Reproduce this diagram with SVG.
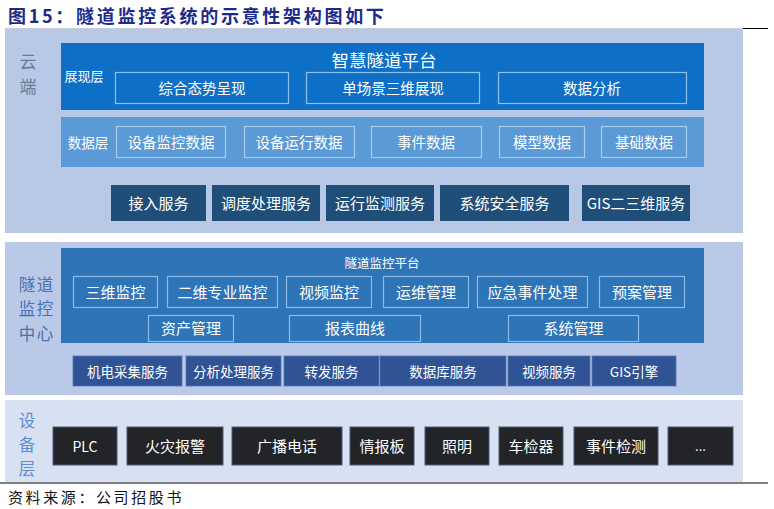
<svg xmlns="http://www.w3.org/2000/svg" width="774" height="509" viewBox="0 0 774 509">
<style>
text{font-family:"Noto Sans CJK SC","Liberation Sans",sans-serif;dominant-baseline:central;text-anchor:middle}
.w{fill:#ffffff}
.sub{fill:none;stroke:#8fc1ee;stroke-width:1.2}
.dat{fill:none;stroke:#a9cdef;stroke-width:1.2}
.csvc{fill:#1f4e79}
.msub{fill:none;stroke:#8dbbe6;stroke-width:1.2}
.msvc{fill:#2f5394;stroke:#5577b3;stroke-width:0.8}
.dev{fill:#222427;stroke:#4a5a78;stroke-width:1}
.t14{font-size:14.5px}
.t15{font-size:15px}
.t13{font-size:13.5px}
</style>
<rect width="774" height="509" fill="#ffffff"/>
<text x="8" y="14.5" style="text-anchor:start;font-size:18px;font-weight:bold;letter-spacing:2.7px" fill="#1c2a8a">图15：隧道监控系统的示意性架构图如下</text>
<line x1="740" y1="28.5" x2="768" y2="28.5" stroke="#000" stroke-width="1"/>
<line x1="0" y1="483" x2="768" y2="483" stroke="#000" stroke-width="1.2"/>

<g id="cloud">
<rect x="5" y="28" width="738" height="205" fill="#b8c9e8"/>
<line x1="5" y1="28.5" x2="743" y2="28.5" stroke="#c8cdd6" stroke-width="1"/>
<text style="font-size:17px" fill="#6b7a92"><tspan x="28" y="60">云</tspan><tspan x="28" y="85">端</tspan></text>
</g>
<g id="presentation">
<rect x="61" y="43" width="643" height="67" fill="#0e6fc6"/>
<text x="384" y="59.5" class="w" style="font-size:17.5px">智慧隧道平台</text>
<text x="84" y="75.5" class="w" style="font-size:13px">展现层</text>
<rect x="115.5" y="72.5" width="173" height="31" class="sub"/>
<text x="202" y="87.5" class="w t14">综合态势呈现</text>
<rect x="306.5" y="72.5" width="173" height="31" class="sub"/>
<text x="393" y="87.5" class="w t14">单场景三维展现</text>
<rect x="498.5" y="72.5" width="188" height="31" class="sub"/>
<text x="592" y="87.5" class="w t14">数据分析</text>
</g>
<g id="datalayer">
<rect x="61" y="117" width="643" height="50" fill="#5a9ad6"/>
<text x="88" y="141.5" class="w" style="font-size:13.5px">数据层</text>
<rect x="116.5" y="126.5" width="109" height="31" class="dat"/>
<text x="171" y="141.5" class="w t14">设备监控数据</text>
<rect x="244.5" y="126.5" width="110" height="31" class="dat"/>
<text x="299" y="141.5" class="w t14">设备运行数据</text>
<rect x="371.5" y="126.5" width="110" height="31" class="dat"/>
<text x="426" y="141.5" class="w t14">事件数据</text>
<rect x="499.5" y="126.5" width="85" height="31" class="dat"/>
<text x="542" y="141.5" class="w t14">模型数据</text>
<rect x="601.5" y="126.5" width="85" height="31" class="dat"/>
<text x="644" y="141.5" class="w t14">基础数据</text>
</g>
<g id="cloud-services">
<rect x="111" y="185" width="95" height="36" class="csvc"/>
<text x="158.5" y="202.5" class="w t15">接入服务</text>
<rect x="212" y="185" width="108" height="36" class="csvc"/>
<text x="266" y="202.5" class="w t15">调度处理服务</text>
<rect x="326" y="185" width="108" height="36" class="csvc"/>
<text x="380" y="202.5" class="w t15">运行监测服务</text>
<rect x="440" y="185" width="129" height="36" class="csvc"/>
<text x="504.5" y="202.5" class="w t15">系统安全服务</text>
<rect x="582" y="185" width="108" height="36" class="csvc"/>
<text x="636" y="202.5" class="w t15">GIS二三维服务</text>
</g>

<g id="monitor-center">
<rect x="5" y="242" width="738" height="153" fill="#b9c9e7"/>
<text style="font-size:16.5px;letter-spacing:1.5px" fill="#4a72b0"><tspan x="36.8" y="283.5">隧道</tspan><tspan x="36.8" y="308">监控</tspan><tspan x="36.8" y="332.5">中心</tspan></text>
</g>
<g id="monitor-platform">
<rect x="61" y="248" width="643" height="95" fill="#2e75b8"/>
<text x="382" y="262.5" class="w" style="font-size:12.5px">隧道监控平台</text>
<rect x="73.5" y="276.5" width="84" height="31" class="msub"/>
<text x="115.5" y="291.5" class="w t15">三维监控</text>
<rect x="167.5" y="276.5" width="110" height="31" class="msub"/>
<text x="222.5" y="291.5" class="w t15">二维专业监控</text>
<rect x="286.5" y="276.5" width="85" height="31" class="msub"/>
<text x="329" y="291.5" class="w t15">视频监控</text>
<rect x="383.5" y="276.5" width="85" height="31" class="msub"/>
<text x="426" y="291.5" class="w t15">运维管理</text>
<rect x="477.5" y="276.5" width="110" height="31" class="msub"/>
<text x="532.5" y="291.5" class="w t15">应急事件处理</text>
<rect x="599.5" y="276.5" width="85" height="31" class="msub"/>
<text x="642" y="291.5" class="w t15">预案管理</text>
<rect x="148.5" y="315.5" width="85" height="26" class="msub"/>
<text x="191" y="327.5" class="w t15">资产管理</text>
<rect x="289.5" y="315.5" width="131" height="26" class="msub"/>
<text x="355" y="327.5" class="w t15">报表曲线</text>
<rect x="508.5" y="315.5" width="130" height="26" class="msub"/>
<text x="573.5" y="327.5" class="w t15">系统管理</text>
</g>
<g id="monitor-services">
<rect x="73" y="356" width="109" height="30" class="msvc"/>
<text x="127.5" y="370.5" class="w t13">机电采集服务</text>
<rect x="186" y="356" width="95" height="30" class="msvc"/>
<text x="233.5" y="370.5" class="w t13">分析处理服务</text>
<rect x="284" y="356" width="95" height="30" class="msvc"/>
<text x="331.5" y="370.5" class="w t13">转发服务</text>
<rect x="380" y="356" width="126" height="30" class="msvc"/>
<text x="443" y="370.5" class="w t13">数据库服务</text>
<rect x="508" y="356" width="82" height="30" class="msvc"/>
<text x="549" y="370.5" class="w t13">视频服务</text>
<rect x="592" y="356" width="84" height="30" class="msvc"/>
<text x="634" y="370.5" class="w t13">GIS引擎</text>
</g>

<g id="device-layer">
<rect x="5" y="400" width="738" height="82" fill="#d8e1f2"/>
<text style="font-size:16.5px" fill="#5b8fd4"><tspan x="27" y="420">设</tspan><tspan x="27" y="444">备</tspan><tspan x="27" y="468">层</tspan></text>
</g>
<g id="devices">
<rect x="53" y="427" width="64" height="38" class="dev"/>
<text x="85" y="445.5" class="w" style="font-size:14px">PLC</text>
<rect x="127" y="427" width="96" height="38" class="dev"/>
<text x="175" y="445.5" class="w t15">火灾报警</text>
<rect x="232" y="427" width="110" height="38" class="dev"/>
<text x="287" y="445.5" class="w t15">广播电话</text>
<rect x="350" y="427" width="64" height="38" class="dev"/>
<text x="382" y="445.5" class="w t15">情报板</text>
<rect x="425" y="427" width="64" height="38" class="dev"/>
<text x="457" y="445.5" class="w t15">照明</text>
<rect x="499" y="427" width="64" height="38" class="dev"/>
<text x="531" y="445.5" class="w t15">车检器</text>
<rect x="574" y="427" width="84" height="38" class="dev"/>
<text x="616" y="445.5" class="w t15">事件检测</text>
<rect x="668" y="427" width="65" height="38" class="dev"/>
<text x="700.5" y="445.5" class="w" style="font-size:13px">...</text>
</g>
<g id="connectors"></g>
<text x="8" y="496" style="text-anchor:start;font-size:15px;letter-spacing:2.6px" fill="#111">资料来源：公司招股书</text>
</svg>
